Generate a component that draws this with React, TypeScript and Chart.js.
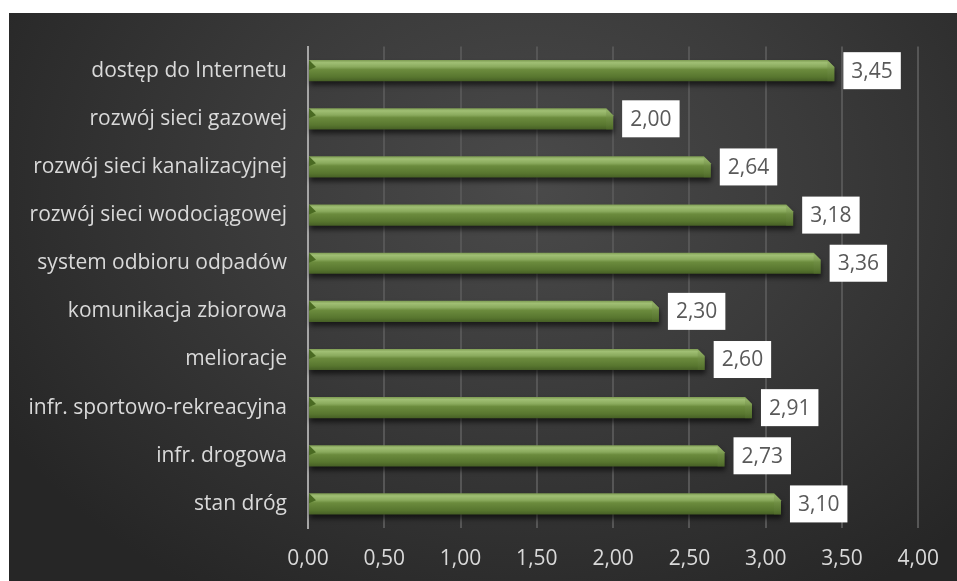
import React, { useEffect, useRef } from "react";
import { Chart, registerables } from "chart.js";

Chart.register(...registerables);

const categories = [
  "dostęp do Internetu",
  "rozwój sieci gazowej",
  "rozwój sieci kanalizacyjnej",
  "rozwój sieci wodociągowej",
  "system odbioru odpadów",
  "komunikacja zbiorowa",
  "melioracje",
  "infr. sportowo-rekreacyjna",
  "infr. drogowa",
  "stan dróg",
];
const values = [3.45, 2.0, 2.64, 3.18, 3.36, 2.3, 2.6, 2.91, 2.73, 3.1];
const xMin = 0;
const xMax = 4;
const xStep = 0.5;

const FONT = "'Open Sans', sans-serif";
const fmt = (v: number) => v.toFixed(2).replace(".", ",");

const barsPlugin = {
  id: "greenBars",
  afterDatasetsDraw(chart: any) {
    const ctx = chart.ctx as CanvasRenderingContext2D;
    const meta = chart.getDatasetMeta(0);
    meta.data.forEach((el: any, i: number) => {
      const { x, y, base, height } = el.getProps(["x", "y", "base", "height"], true);
      const top = y - height / 2;
      const bot = y + height / 2;
      const left = base;
      const right = x;
      const c = 7;
      ctx.save();
      ctx.shadowColor = "rgba(0,0,0,0.6)";
      ctx.shadowBlur = 5;
      ctx.shadowOffsetY = 4;
      ctx.shadowOffsetX = 1;
      const g = ctx.createLinearGradient(0, top, 0, bot);
      g.addColorStop(0, "#7d9b52");
      g.addColorStop(0.12, "#a0bf74");
      g.addColorStop(0.32, "#8aaa5d");
      g.addColorStop(0.45, "#6b8b3d");
      g.addColorStop(0.8, "#58762f");
      g.addColorStop(1, "#465f25");
      ctx.fillStyle = g;
      ctx.beginPath();
      ctx.moveTo(left, top);
      ctx.lineTo(right - c, top);
      ctx.lineTo(right, top + c);
      ctx.lineTo(right, bot);
      ctx.lineTo(left, bot);
      ctx.closePath();
      ctx.fill();
      ctx.restore();
      ctx.save();
      const g2 = ctx.createLinearGradient(0, top, 0, bot);
      g2.addColorStop(0, "#8aa85e");
      g2.addColorStop(1, "#53702c");
      ctx.fillStyle = g2;
      ctx.beginPath();
      ctx.moveTo(right - c, top);
      ctx.lineTo(right, top + c);
      ctx.lineTo(right, bot);
      ctx.lineTo(right - c, bot);
      ctx.closePath();
      ctx.globalAlpha = 0.5;
      ctx.fill();
      ctx.globalAlpha = 1;
      ctx.fillStyle = "#4a6a22";
      ctx.beginPath();
      ctx.moveTo(left, top);
      ctx.lineTo(left + c, top + c);
      ctx.lineTo(left, top + c + 3);
      ctx.closePath();
      ctx.fill();
      ctx.restore();

      const txt = fmt(values[i]);
      ctx.save();
      ctx.font = `21px ${FONT}`;
      const tw = ctx.measureText(txt).width;
      const bx = right + 9;
      const bw = tw + 16;
      const bh = 37;
      ctx.fillStyle = "#ffffff";
      ctx.fillRect(bx, y - bh / 2, bw, bh);
      ctx.fillStyle = "#595959";
      ctx.textAlign = "center";
      ctx.textBaseline = "middle";
      ctx.fillText(txt, bx + bw / 2, y + 1);
      ctx.restore();
    });
  },
};

export default function App() {
  const ref = useRef<HTMLCanvasElement | null>(null);
  useEffect(() => {
    if (!ref.current) return;
    const chart = new Chart(ref.current, {
      type: "bar",
      data: {
        labels: categories,
        datasets: [
          {
            data: values,
            backgroundColor: "rgba(0,0,0,0)",
            borderWidth: 0,
            barPercentage: 0.44,
            categoryPercentage: 1,
          },
        ],
      },
      options: {
        indexAxis: "y",
        responsive: false,
        animation: false,
        layout: { padding: { top: 29, right: 38, left: 0, bottom: 0 } },
        plugins: { legend: { display: false }, tooltip: { enabled: false } },
        scales: {
          x: {
            min: xMin,
            max: xMax,
            afterFit: (s: any) => {
              s.height = 53;
            },
            ticks: {
              stepSize: xStep,
              autoSkip: false,
              maxRotation: 0,
              padding: 18,
              color: "#d9d9d9",
              font: { family: FONT, size: 21 },
              callback: (v: any) => fmt(Number(v)),
            },
            grid: {
              drawTicks: false,
              color: (c: any) => (c.index === 0 ? "rgba(0,0,0,0)" : "#565656"),
              lineWidth: 2,
            },
            border: { display: false },
          },
          y: {
            afterFit: (s: any) => {
              s.width = 299;
            },
            ticks: {
              padding: 21,
              color: "#d9d9d9",
              font: { family: FONT, size: 21 },
            },
            grid: { display: false, drawTicks: false },
            border: { display: true, color: "#a6a6a6", width: 2 },
          },
        },
      },
      plugins: [barsPlugin],
    });
    return () => chart.destroy();
  }, []);
  return (
    <div
      style={{
        position: "absolute",
        left: 9,
        top: 13,
        width: 948,
        height: 568,
        background:
          "radial-gradient(ellipse 65% 85% at 55% 30%, #4a4a4a 0%, #3b3b3b 45%, #262626 100%)",
      }}
    >
      <canvas ref={ref} width={948} height={568} style={{ display: "block" }} />
    </div>
  );
}
